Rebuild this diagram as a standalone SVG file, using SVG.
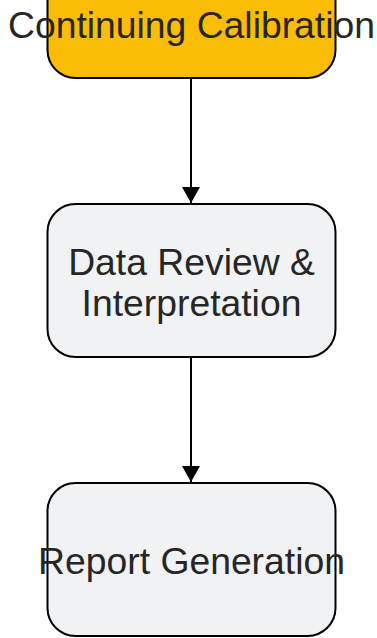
<svg xmlns="http://www.w3.org/2000/svg" width="377" height="638" viewBox="0 0 377 638">
<defs>
<style>
.box{stroke:#000;stroke-width:2}
.lbl{font-family:"Liberation Sans",Arial,sans-serif;font-size:37.3px;fill:#262626;text-anchor:middle}
.edge{stroke:#000;stroke-width:2;fill:none}
</style>
<marker id="arr" viewBox="0 0 16 18" refX="16" refY="9" markerWidth="16" markerHeight="18" markerUnits="userSpaceOnUse" orient="auto">
<path d="M0,0 L16,9 L0,18 z" fill="#000"/>
</marker>
</defs>
<g id="edges">
<path class="edge" d="M191,78 L191,203" marker-end="url(#arr)"/>
<path class="edge" d="M191,357 L191,482" marker-end="url(#arr)"/>
</g>
<g id="n1">
<rect class="box" x="47.5" y="-80" width="288" height="158" rx="28" fill="#fbbc05"/>
<text class="lbl" x="191.5" y="38">Continuing Calibration</text>
</g>
<g id="n2">
<rect class="box" x="47.5" y="204" width="288" height="153" rx="28" fill="#f1f2f4"/>
<text class="lbl" x="191.5" y="275">Data Review &amp;</text>
<text class="lbl" x="191.5" y="316">Interpretation</text>
</g>
<g id="n3">
<rect class="box" x="47.5" y="483" width="288" height="153" rx="28" fill="#f1f2f4"/>
<text class="lbl" x="191.5" y="574">Report Generation</text>
</g>
</svg>
